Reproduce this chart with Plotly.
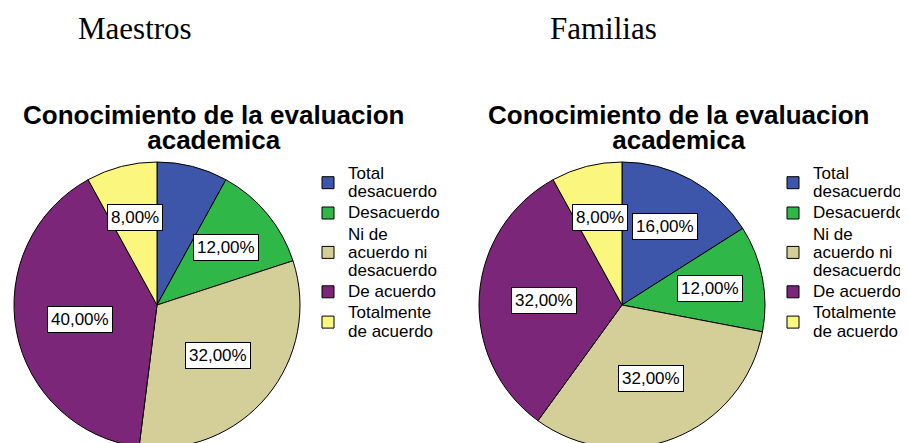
import math
import plotly.graph_objects as go

# ---------------- data ----------------
category_lines = [["Total", "desacuerdo"], ["Desacuerdo"], ["Ni de", "acuerdo ni", "desacuerdo"],
                  ["De acuerdo"], ["Totalmente", "de acuerdo"]]
maestros_values = [8, 12, 32, 40, 8]
familias_values = [16, 12, 32, 32, 8]
maestros_labeled = [False, True, True, True, True]
familias_labeled = [True, True, True, True, True]
panel_headers = ["Maestros", "Familias"]
chart_title_lines = ["Conocimiento de la evaluacion", "academica"]

# ---------------- style ----------------
colors = ["#3D56A9", "#2FB847", "#D4CE98", "#7C2679", "#FBF67E"]
W, H = 908, 443
OFF = 8            # page body margin in the browser
R = 143
centers = [(157 - OFF, 305 - OFF), (622 - OFF, 305 - OFF)]
title_x = [213 - OFF, 678 - OFF]
title_y = 119
header_x = [135 - OFF, 603 - OFF]
header_y = 21
legend_x = [348 - OFF - 40, 813 - OFF - 40]
legend_y = 150
SANS = "Liberation Sans, Arial, sans-serif"
SERIF = "Liberation Serif, Times New Roman, serif"
LEG_PX = 17
TITLE_PX = 26


def legend_labels(panel_idx):
    # the style string differs per panel only so that each pie keeps its own legend entries
    style = "font-size:%dpx" % LEG_PX + (";" * panel_idx)
    return ["<br>".join("<span style='%s'>%s</span>" % (style, s) for s in lines)
            for lines in category_lines]


title_text = "<br>".join("<span style='font-size:%dpx'>%s</span>" % (TITLE_PX, s)
                         for s in chart_title_lines)

fig = go.Figure()
annotations = []

panels = [(maestros_values, maestros_labeled, "legend"),
          (familias_values, familias_labeled, "legend2")]

for i, (vals, labeled, leg) in enumerate(panels):
    cx, cy = centers[i]
    fig.add_trace(go.Pie(
        labels=legend_labels(i), values=vals, sort=False, direction="clockwise",
        rotation=0, textinfo="none", hoverinfo="percent",
        marker=dict(colors=colors, line=dict(color="black", width=1)),
        domain=dict(x=[(cx - R) / W, (cx + R) / W],
                    y=[(H - cy - R) / H, (H - cy + R) / H]),
        legend=leg, showlegend=True, legendgroup="g%d" % i,
    ))
    total = float(sum(vals))
    cum = 0.0
    for v, show in zip(vals, labeled):
        theta = 2 * math.pi * (cum + v / 2.0) / total
        cum += v
        if not show:
            continue
        frac = 0.63 if v / total < 0.2 else 0.55
        px = cx + frac * R * math.sin(theta)
        py = cy - frac * R * math.cos(theta)
        annotations.append(dict(
            x=px / W, y=1 - py / H, xref="paper", yref="paper",
            text=("%.2f" % v).replace(".", ",") + "%", showarrow=False,
            font=dict(family=SANS, size=17, color="black"),
            bgcolor="white", bordercolor="black", borderwidth=1, borderpad=3,
            xanchor="center", yanchor="middle",
        ))
    annotations.append(dict(
        x=title_x[i] / W, y=1 - title_y / H, xref="paper", yref="paper",
        text=title_text, showarrow=False, xanchor="center", yanchor="middle",
        font=dict(family=SANS, size=19, color="black", weight="bold"),
    ))
    annotations.append(dict(
        x=header_x[i] / W, y=1 - header_y / H, xref="paper", yref="paper",
        text=panel_headers[i], showarrow=False, xanchor="center", yanchor="middle",
        font=dict(family=SERIF, size=31, color="black"),
    ))

legend_common = dict(
    xanchor="left", yanchor="top", y=1 - legend_y / H,
    font=dict(family=SANS, size=14, color="black"),
    bgcolor="rgba(0,0,0,0)", borderwidth=0, tracegroupgap=0,
)
fig.update_layout(
    width=W, height=H, margin=dict(l=0, r=0, t=0, b=0),
    paper_bgcolor="white", plot_bgcolor="white",
    annotations=annotations,
    legend=dict(x=legend_x[0] / W, **legend_common),
    legend2=dict(x=legend_x[1] / W, **legend_common),
)

fig.write_html("out.html")
